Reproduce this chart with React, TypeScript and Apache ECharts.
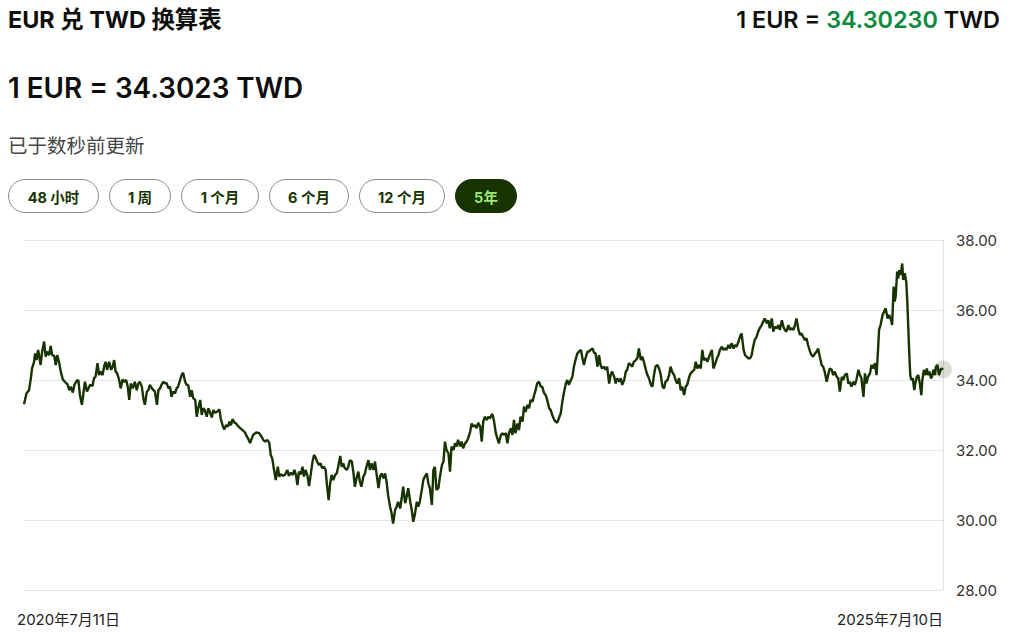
import React, { useEffect, useRef } from "react";
import * as echarts from "echarts";

const titleText = "EUR 兑 TWD 换算表";
const rateHeadline = "1 EUR = 34.3023 TWD";
const rateTopLeft = "1 EUR = ";
const rateTopValue = "34.30230";
const rateTopRight = " TWD";
const updatedText = "已于数秒前更新";
const rangeLabels = ["48 小时", "1 周", "1 个月", "6 个月", "12 个月", "5年"];
const activeRange = "5年";

const dateLabels = ["2020年7月11日", "2025年7月10日"];
const totalDays = 1825;
const yTicks = [28, 30, 32, 34, 36, 38];

// days since 2020-07-11
const dayOffsets = [
  0, 5, 10, 14, 16, 20, 22, 25, 28, 33,
  36, 40, 43, 46, 50, 53, 56, 60, 63, 66,
  70, 73, 77, 81, 86, 90, 93, 97, 100, 105,
  108, 111, 115, 118, 121, 125, 128, 131, 136, 139,
  142, 146, 149, 152, 156, 159, 162, 165, 169, 173,
  176, 179, 182, 185, 189, 192, 196, 199, 203, 206,
  209, 212, 216, 220, 224, 227, 230, 234, 237, 240,
  244, 247, 250, 254, 257, 260, 264, 267, 270, 273,
  277, 280, 283, 287, 290, 293, 296, 300, 303, 306,
  310, 313, 316, 320, 323, 326, 330, 333, 336, 340,
  343, 346, 350, 353, 356, 359, 363, 366, 369, 373,
  376, 379, 383, 388, 391, 395, 398, 401, 405, 408,
  411, 414, 418, 421, 426, 430, 434, 439, 442, 445,
  449, 455, 461, 467, 472, 475, 479, 483, 487, 490,
  493, 496, 500, 504, 507, 510, 514, 518, 523, 526,
  530, 534, 537, 540, 543, 546, 550, 553, 556, 559,
  563, 566, 569, 573, 576, 579, 582, 586, 589, 592,
  596, 599, 602, 605, 608, 611, 614, 618, 621, 624,
  628, 631, 634, 637, 641, 644, 647, 651, 654, 657,
  661, 664, 667, 670, 674, 677, 680, 684, 687, 690,
  694, 697, 700, 704, 707, 710, 714, 717, 720, 723,
  727, 730, 733, 737, 740, 743, 747, 750, 753, 757,
  760, 763, 767, 770, 773, 776, 780, 783, 786, 790,
  793, 796, 800, 803, 806, 810, 813, 816, 819, 823,
  826, 830, 833, 836, 839, 843, 846, 849, 853, 856,
  859, 862, 866, 869, 872, 876, 879, 882, 886, 889,
  892, 896, 899, 902,
  906, 909, 912, 915, 919, 922, 925, 930, 933, 937,
  940, 943, 947, 950, 953, 957, 960, 963, 967, 970,
  973, 976, 980, 983, 986, 990, 993, 996, 1000, 1003,
  1006, 1010, 1013, 1016, 1019, 1023, 1026, 1029, 1033, 1036,
  1039, 1043, 1046, 1049, 1053, 1056, 1059, 1062, 1066, 1069,
  1072, 1076, 1079, 1082, 1086, 1089, 1092, 1096, 1099, 1102,
  1106, 1109, 1112, 1115, 1119, 1122, 1125, 1129, 1132, 1135,
  1139, 1142, 1145, 1148, 1152, 1155, 1158, 1162, 1165, 1168,
  1172, 1175, 1178, 1182, 1185, 1188, 1192, 1195, 1198, 1201,
  1205, 1208, 1211, 1215, 1218, 1221, 1225, 1228, 1231, 1235,
  1238, 1241, 1245, 1248, 1251, 1254, 1258, 1261, 1264, 1268,
  1271, 1274, 1278, 1281, 1284, 1287, 1291, 1294, 1297, 1301,
  1304, 1307, 1311, 1314, 1317, 1321, 1324, 1327, 1331, 1334,
  1337, 1340, 1344, 1347, 1350, 1354, 1357,
  1363, 1366, 1369, 1373, 1376, 1379, 1382, 1386, 1389, 1392,
  1395, 1399, 1402, 1405, 1409, 1412, 1415, 1419, 1422, 1425,
  1429, 1432, 1435, 1438, 1442, 1445, 1448, 1451, 1455, 1458,
  1461, 1465, 1468, 1471, 1475, 1478, 1481, 1485, 1488, 1491,
  1495, 1498, 1501, 1505, 1508, 1511, 1514, 1518, 1521, 1524,
  1528, 1531, 1534, 1538, 1541, 1544, 1547, 1551, 1554, 1557,
  1561, 1564, 1567, 1571, 1574, 1577, 1581, 1584, 1587, 1590,
  1594, 1597, 1600, 1604, 1607, 1610, 1614, 1617, 1620, 1624,
  1627, 1630, 1634, 1637, 1640, 1643, 1647, 1650, 1653, 1657,
  1660, 1663, 1667, 1670, 1673, 1676, 1680, 1683, 1687, 1690,
  1693, 1696, 1698, 1701, 1705, 1708, 1711, 1715, 1718, 1722,
  1724, 1725, 1727, 1729, 1731, 1734, 1736, 1738, 1741, 1744,
  1746, 1749, 1752, 1754, 1756, 1758, 1760, 1762, 1765, 1768,
  1770, 1773, 1776, 1779, 1782, 1784, 1787, 1790, 1793, 1795,
  1798, 1801, 1803, 1806, 1809, 1811, 1814, 1817, 1820, 1822,
  1825,
];

// EUR -> TWD
const rates = [
  33.31, 33.62, 33.71, 34.09, 34.33, 34.52, 34.76, 34.57, 34.86, 34.43,
  34.81, 35.10, 34.67, 34.81, 34.71, 34.97, 34.71, 34.69, 34.43, 34.71,
  34.48, 34.24, 34.02, 33.95, 33.88, 33.71, 33.81, 33.64, 33.86, 33.98,
  34.00, 33.57, 33.29, 33.62, 33.95, 33.67, 33.76, 33.86, 33.83, 34.05,
  34.09, 34.48, 34.14, 34.24, 34.14, 34.38, 34.52, 34.29, 34.52, 34.29,
  34.38, 34.57, 34.24, 34.19, 34.00, 33.76, 34.02, 33.95, 34.00, 33.81,
  33.43, 33.90, 33.76, 33.95, 33.71, 33.90, 33.95, 33.81, 33.48, 33.29,
  33.67, 33.71, 33.86, 33.76, 33.71, 33.67, 33.29, 33.71, 33.76, 33.86,
  33.95, 33.90, 33.92, 33.76, 33.81, 33.52, 33.67, 33.62, 33.76, 33.81,
  34.00, 34.14, 34.21, 33.95, 33.86, 33.86, 33.52, 33.71, 33.48, 33.43,
  32.95, 33.19, 33.43, 33.00, 33.19, 33.14, 32.95, 33.19, 33.09, 32.93,
  33.14, 33.07, 33.09, 33.16, 32.88, 32.67, 32.59, 32.71, 32.67, 32.81,
  32.71, 32.88, 32.78, 32.76, 32.67, 32.62, 32.57, 32.50, 32.40, 32.33,
  32.20, 32.43, 32.50, 32.48, 32.38, 32.29, 32.24, 32.29, 32.21, 31.86,
  31.76, 31.48, 31.14, 31.52, 31.24, 31.31, 31.26, 31.29, 31.43, 31.26,
  31.35, 31.29, 31.43, 31.29, 31.00, 31.38, 31.31, 31.52, 31.24, 31.43,
  31.26, 30.97, 31.26, 31.67, 31.86, 31.79, 31.67, 31.57, 31.62, 31.48,
  31.52, 31.43, 30.95, 30.57, 31.05, 31.29, 31.14, 31.29, 31.33, 31.52,
  31.83, 31.52, 31.62, 31.48, 31.43, 31.52, 31.71, 31.67, 31.38, 30.95,
  31.24, 31.38, 31.10, 30.95, 31.24, 31.33, 31.52, 31.71, 31.43, 31.62,
  31.43, 31.67, 31.33, 30.91, 31.24, 31.33, 31.19, 31.33, 31.10, 30.71,
  30.38, 30.19, 29.90, 30.29, 30.38, 30.52, 30.33, 30.62, 30.95, 30.48,
  30.67, 30.91, 30.52, 30.29, 29.95, 30.14, 30.52, 30.38, 30.52, 30.86,
  31.14, 31.24, 31.33, 31.05, 30.91, 30.43, 31.43, 31.52, 30.86, 30.91,
  31.24, 31.57, 31.67, 32.24, 32.00, 31.90, 31.38, 32.10, 32.00, 32.19,
  32.10, 32.29, 32.10, 32.24, 32.05, 32.19, 32.24, 32.33, 32.52, 32.76,
  32.67, 32.71, 32.62, 32.78,
  32.67, 32.24, 32.81, 32.95, 32.86, 32.95, 32.90, 33.03, 32.86, 32.48,
  32.33, 32.19, 32.43, 32.48, 32.43, 32.48, 32.19, 32.48, 32.62, 32.43,
  32.86, 32.48, 32.76, 32.57, 32.95, 32.81, 33.24, 33.09, 33.29, 33.19,
  33.43, 33.38, 33.57, 33.71, 33.90, 33.95, 33.81, 33.81, 33.62, 33.57,
  33.43, 33.19, 33.14, 33.00, 32.86, 32.81, 32.78, 32.90, 33.05, 33.38,
  33.62, 33.90, 34.00, 33.86, 34.00, 34.09, 34.38, 34.62, 34.76, 34.81,
  34.86, 34.62, 34.43, 34.62, 34.81, 34.81, 34.86, 34.90, 34.78, 34.76,
  34.38, 34.71, 34.43, 34.33, 34.38, 34.29, 34.38, 33.90, 34.14, 34.24,
  34.09, 33.90, 34.05, 33.95, 34.05, 33.86, 34.00, 34.24, 34.29, 34.48,
  34.43, 34.38, 34.52, 34.57, 34.62, 34.90, 34.57, 34.67, 34.52, 34.29,
  34.14, 34.05, 33.86, 33.81, 34.14, 34.38, 34.43, 34.33, 34.19, 33.81,
  33.76, 33.95, 34.00, 34.14, 34.38, 34.24, 34.14, 34.00, 33.90, 34.05,
  33.71, 33.81, 33.57, 33.81, 33.86, 34.09, 34.19, 34.24, 34.29, 34.52,
  34.33, 34.43, 34.33, 34.86, 34.57, 34.62, 34.52,
  34.76, 34.86, 34.33, 34.48, 34.62, 34.71, 34.86, 34.95, 34.86, 34.90,
  34.86, 35.00, 34.90, 35.05, 34.90, 35.00, 34.95, 35.10, 35.24, 35.33,
  34.86, 34.71, 34.67, 34.62, 34.62, 34.71, 34.95, 35.14, 35.24, 35.38,
  35.48, 35.57, 35.67, 35.76, 35.62, 35.71, 35.48, 35.76, 35.38, 35.52,
  35.48, 35.57, 35.43, 35.71, 35.52, 35.43, 35.38, 35.57, 35.43, 35.48,
  35.43, 35.57, 35.76, 35.43, 35.29, 35.33, 35.24, 35.14, 35.19, 35.00,
  34.81, 34.71, 34.67, 34.76, 34.81, 34.90, 34.62, 34.43, 34.38, 34.24,
  33.95, 34.14, 34.33, 34.29, 34.14, 34.24, 34.09, 34.05, 33.67, 34.09,
  34.00, 34.14, 34.19, 33.90, 33.95, 33.81, 33.95, 33.86, 34.00, 34.29,
  34.14, 34.05, 33.52, 34.19, 33.90, 34.09, 34.19, 34.43, 34.33, 34.48,
  34.14, 34.86, 35.43, 35.57, 35.86, 35.95, 36.05, 35.76, 35.86, 35.71,
  35.57, 35.95, 36.67, 36.24, 36.38, 37.10, 36.90, 37.14, 37.00, 37.33,
  36.86, 37.05, 36.81, 36.29, 35.52, 34.76, 34.14, 34.00, 34.05, 33.71,
  33.90, 34.09, 34.14, 33.90, 33.57, 34.00, 34.29, 34.14, 34.33, 34.14,
  34.24, 34.05, 34.09, 34.29, 34.14, 34.38, 34.43, 34.14, 34.29, 34.33,
  34.30,
];

const FONT = "Inter, 'Noto Sans CJK SC', sans-serif";
const LINE_GREEN = "#163300";

function RateChart() {
  const ref = useRef<HTMLDivElement>(null);
  useEffect(() => {
    if (!ref.current) return;
    const chart = echarts.init(ref.current, undefined, { renderer: "svg" });
    const n = Math.min(dayOffsets.length, rates.length);
    const data = [];
    for (let i = 0; i < n; i++) data.push([dayOffsets[i], rates[i]]);
    const last = data[data.length - 1];
    chart.setOption({
      animation: false,
      grid: { left: 24, right: 78, top: 10, height: 350 },
      xAxis: {
        type: "value",
        min: 0,
        max: totalDays,
        interval: totalDays,
        axisLine: { show: false },
        axisTick: { show: false },
        splitLine: { show: false },
        axisLabel: {
          formatter: (v: number) => (v <= 0 ? dateLabels[0] : dateLabels[1]),
          alignMinLabel: "left",
          alignMaxLabel: "right",
          padding: [0, 0, 0, -7],
          margin: 22,
          fontSize: 15,
          color: "#222",
          fontFamily: FONT,
        },
      },
      yAxis: {
        type: "value",
        position: "right",
        min: yTicks[0],
        max: yTicks[yTicks.length - 1],
        interval: yTicks[1] - yTicks[0],
        axisLine: { show: true, onZero: false, lineStyle: { color: "#e2e2e2" } },
        axisTick: { show: false },
        splitLine: { show: true, lineStyle: { color: "#e6e6e6", width: 1 } },
        axisLabel: {
          formatter: (v: number) => v.toFixed(2),
          margin: 13,
          fontSize: 15,
          color: "#333",
          fontFamily: FONT,
        },
      },
      series: [
        {
          type: "line",
          data,
          showSymbol: false,
          lineStyle: { color: LINE_GREEN, width: 2.4 },
          itemStyle: { color: LINE_GREEN },
          markPoint: {
            silent: true,
            symbol: "circle",
            symbolSize: 18,
            label: { show: false },
            itemStyle: { color: "rgba(22,51,0,0.16)" },
            data: [{ coord: last }],
          },
        },
      ],
    });
    return () => chart.dispose();
  }, []);
  return <div ref={ref} style={{ width: 1021, height: 403 }} />;
}

const buttonWidths = [91, 62, 78, 80, 86, 62];

export default function App() {
  return (
    <div
      style={{
        position: "absolute",
        left: 0,
        top: 0,
        width: 1021,
        height: 633,
        background: "#fff",
        fontFamily: FONT,
        color: "#0e0f0c",
        overflow: "hidden",
      }}
    >
      <div
        style={{
          position: "absolute",
          left: 8,
          top: 5,
          fontSize: 23.4,
          lineHeight: "30px",
          fontWeight: 700,
          whiteSpace: "nowrap",
        }}
      >
        {titleText}
      </div>
      <div
        style={{
          position: "absolute",
          right: 21,
          top: 5,
          fontSize: 23.4,
          lineHeight: "30px",
          fontWeight: 600,
          whiteSpace: "pre",
        }}
      >
        {rateTopLeft}
        <span style={{ color: "#0b8a3e" }}>{rateTopValue}</span>
        {rateTopRight}
      </div>
      <div
        style={{
          position: "absolute",
          left: 8,
          top: 71,
          fontSize: 27.8,
          lineHeight: "34px",
          fontWeight: 600,
          whiteSpace: "nowrap",
        }}
      >
        {rateHeadline}
      </div>
      <div
        style={{
          position: "absolute",
          left: 8,
          top: 133,
          fontSize: 19.5,
          lineHeight: "26px",
          color: "#454745",
          whiteSpace: "nowrap",
        }}
      >
        {updatedText}
      </div>
      <div style={{ position: "absolute", left: 8, top: 179, display: "flex", gap: 10 }}>
        {rangeLabels.map((r, i) => {
          const active = r === activeRange;
          return (
            <div
              key={r}
              style={{
                width: buttonWidths[i],
                height: 34,
                boxSizing: "border-box",
                borderRadius: 17,
                border: active ? "1px solid #163300" : "1px solid #8c8c8c",
                background: active ? "#163300" : "#fff",
                color: active ? "#9fe870" : "#163300",
                fontSize: 14.5,
                fontWeight: 700,
                display: "flex",
                alignItems: "center",
                justifyContent: "center",
                whiteSpace: "pre",
              }}
            >
              {r}
            </div>
          );
        })}
      </div>
      <div style={{ position: "absolute", left: 0, top: 230 }}>
        <RateChart />
      </div>
    </div>
  );
}
